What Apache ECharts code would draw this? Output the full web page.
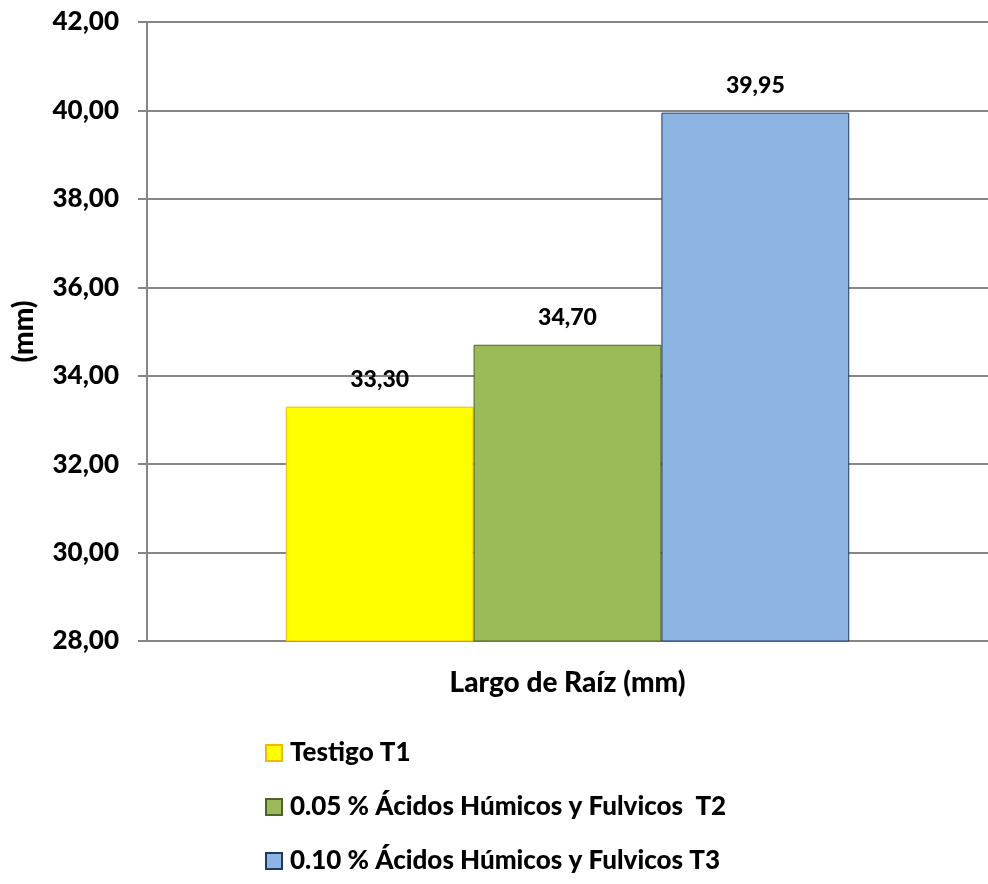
<!DOCTYPE html>
<html>
<head>
<meta charset="utf-8">
<style>
  html, body { margin: 0; padding: 0; background: #fff; }
  #chart { width: 988px; height: 884px; }
</style>
<script src="https://cdn.jsdelivr.net/npm/echarts@6/dist/echarts.min.js"></script>
</head>
<body>
<div id="chart"></div>
<script>
// Root length per treatment (mm)
const categories = ['Largo de Raíz (mm)'];
const seriesNames = [
  'Testigo T1',
  '0.05 % Ácidos Húmicos y Fulvicos  T2',
  '0.10 % Ácidos Húmicos y Fulvicos T3'
];
const t1Values = [33.30];
const t2Values = [34.70];
const t3Values = [39.95];
const yTicks = [28, 30, 32, 34, 36, 38, 40, 42];

const fillColors = ['#ffff00', '#9bbb59', '#8eb4e3'];
const borderColors = ['#f2b705', '#4f6228', '#1f3a5f'];
const FONT = 'Lato, "Open Sans", sans-serif';

const fmt = v => Number(v).toFixed(2).replace('.', ',');

const valueSets = [t1Values, t2Values, t3Values];
const series = seriesNames.map((name, i) => ({
  name,
  type: 'bar',
  data: valueSets[i],
  barGap: '0%',
  barCategoryGap: '33%',
  itemStyle: { color: fillColors[i], borderColor: borderColors[i], borderWidth: 1 },
  label: {
    show: true,
    position: 'top',
    distance: 16,
    formatter: p => fmt(p.value),
    color: '#000',
    fontFamily: FONT,
    fontWeight: 900,
    fontSize: 23
  }
}));

const chart = echarts.init(document.getElementById('chart'));
chart.setOption({
  backgroundColor: '#ffffff',
  animation: false,
  grid: { left: 147, right: 0, top: 22, bottom: 243, containLabel: false },
  legend: {
    orient: 'vertical',
    left: 265,
    top: 739,
    padding: 0,
    itemWidth: 16,
    itemHeight: 16,
    itemGap: 26,
    icon: 'rect',
    textStyle: { fontFamily: FONT, fontWeight: 900, fontSize: 26, lineHeight: 28, color: '#000', padding: [0, 0, 0, 3] },
    data: seriesNames
  },
  xAxis: {
    type: 'category',
    data: categories,
    axisLine: { lineStyle: { color: '#868686', width: 2 } },
    axisTick: { show: false },
    axisLabel: {
      margin: 28,
      color: '#000',
      fontFamily: FONT,
      fontWeight: 900,
      fontSize: 28
    }
  },
  yAxis: {
    type: 'value',
    min: yTicks[0],
    max: yTicks[yTicks.length - 1],
    interval: 2,
    name: '(mm)',
    nameLocation: 'middle',
    nameGap: 109,
    nameRotate: 90,
    nameTextStyle: { fontFamily: FONT, fontWeight: 900, fontSize: 28, color: '#000' },
    axisLine: { show: true, lineStyle: { color: '#868686', width: 2 } },
    axisTick: { show: true, length: 9, lineStyle: { color: '#868686', width: 2 } },
    splitLine: { lineStyle: { color: '#868686', width: 2 } },
    axisLabel: {
      margin: 28,
      formatter: v => fmt(v),
      color: '#000',
      fontFamily: FONT,
      fontWeight: 900,
      fontSize: 26
    }
  },
  series
});
</script>
</body>
</html>
